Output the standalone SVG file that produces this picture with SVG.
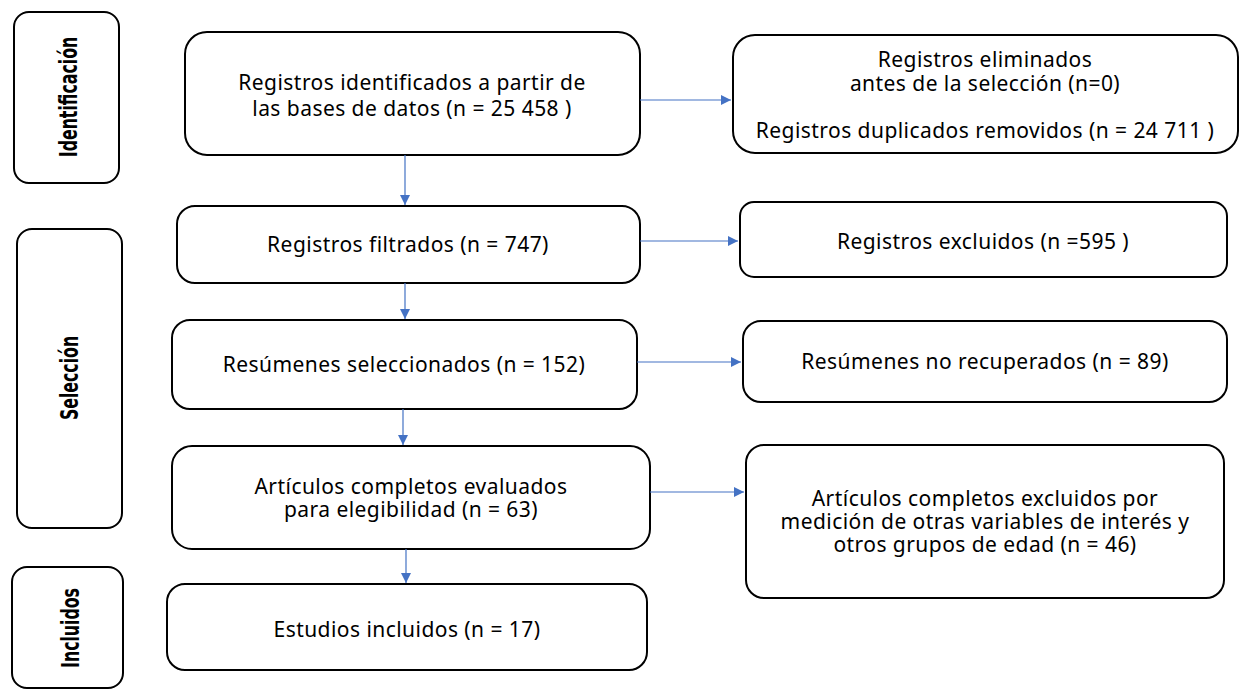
<svg xmlns="http://www.w3.org/2000/svg" width="1246" height="690" viewBox="0 0 1246 690">
<defs>
<style>
.box{fill:#fff;stroke:#000;stroke-width:2}
.t{font-family:"Noto Sans","Open Sans",sans-serif;font-size:21px;letter-spacing:0.45px;fill:#000;text-anchor:middle}
.lab{font-family:"DejaVu Sans",sans-serif;font-stretch:condensed;font-weight:bold;font-size:24px;fill:#000;text-anchor:middle}
.c{stroke:#4472C4;stroke-width:1.2;fill:none;marker-end:url(#ah)}
</style>
<marker id="ah" viewBox="0 0 10 10" refX="10" refY="5" markerWidth="10" markerHeight="10" markerUnits="userSpaceOnUse" orient="auto">
<path d="M0,0 L10,5 L0,10 z" fill="#4472C4"/>
</marker>
</defs>
<rect width="1246" height="690" fill="#fff"/>
<g id="phase-identificacion">
<rect class="box" x="14" y="12" width="105" height="171" rx="15"/>
<text class="lab" transform="translate(77,97) rotate(-90) scale(0.73,1)">Identificación</text>
</g>
<g id="phase-seleccion">
<rect class="box" x="17" y="229" width="105" height="299" rx="15"/>
<text class="lab" transform="translate(78,378) rotate(-90) scale(0.73,1)">Selección</text>
</g>
<g id="phase-incluidos">
<rect class="box" x="12" y="567" width="111" height="121" rx="15"/>
<text class="lab" transform="translate(79,628) rotate(-90) scale(0.73,1)">Incluidos</text>
</g>
<g id="n1">
<rect class="box" x="185" y="32" width="455" height="123" rx="22"/>
<text class="t" x="412" y="90">Registros identificados a partir de</text>
<text class="t" x="412" y="116">las bases de datos (n = 25 458 )</text>
</g>
<g id="r1">
<rect class="box" x="733" y="35" width="505" height="118" rx="22"/>
<text class="t" x="985" y="67">Registros eliminados</text>
<text class="t" x="985" y="91">antes de la selección (n=0)</text>
<text class="t" x="985" y="138">Registros duplicados removidos (n = 24 711 )</text>
</g>
<g id="n2">
<rect class="box" x="177" y="206" width="463" height="77" rx="18"/>
<text class="t" x="408" y="252">Registros filtrados (n = 747)</text>
</g>
<g id="r2">
<rect class="box" x="740" y="202" width="487" height="75" rx="14"/>
<text class="t" x="983" y="249">Registros excluidos (n =595 )</text>
</g>
<g id="n3">
<rect class="box" x="172" y="320" width="465" height="89" rx="18"/>
<text class="t" x="404" y="372">Resúmenes seleccionados (n = 152)</text>
</g>
<g id="r3">
<rect class="box" x="743" y="321" width="484" height="81" rx="18"/>
<text class="t" x="985" y="369">Resúmenes no recuperados (n = 89)</text>
</g>
<g id="n4">
<rect class="box" x="172" y="446" width="478" height="103" rx="20"/>
<text class="t" x="411" y="494">Artículos completos evaluados</text>
<text class="t" x="411" y="517">para elegibilidad (n = 63)</text>
</g>
<g id="r4">
<rect class="box" x="746" y="445" width="478" height="153" rx="18"/>
<text class="t" x="985" y="506">Artículos completos excluidos por</text>
<text class="t" x="985" y="529">medición de otras variables de interés y</text>
<text class="t" x="985" y="552">otros grupos de edad (n = 46)</text>
</g>
<g id="n5">
<rect class="box" x="167" y="584" width="480" height="86" rx="18"/>
<text class="t" x="407" y="637">Estudios incluidos (n = 17)</text>
</g>
<g id="connectors">
<path class="c" d="M640,100 H731"/>
<path class="c" d="M405,155 V205"/>
<path class="c" d="M640,241 H738"/>
<path class="c" d="M405,283 V319"/>
<path class="c" d="M637,362 H741"/>
<path class="c" d="M403,409 V445"/>
<path class="c" d="M650,492 H744"/>
<path class="c" d="M406,549 V583"/>
</g>
</svg>
